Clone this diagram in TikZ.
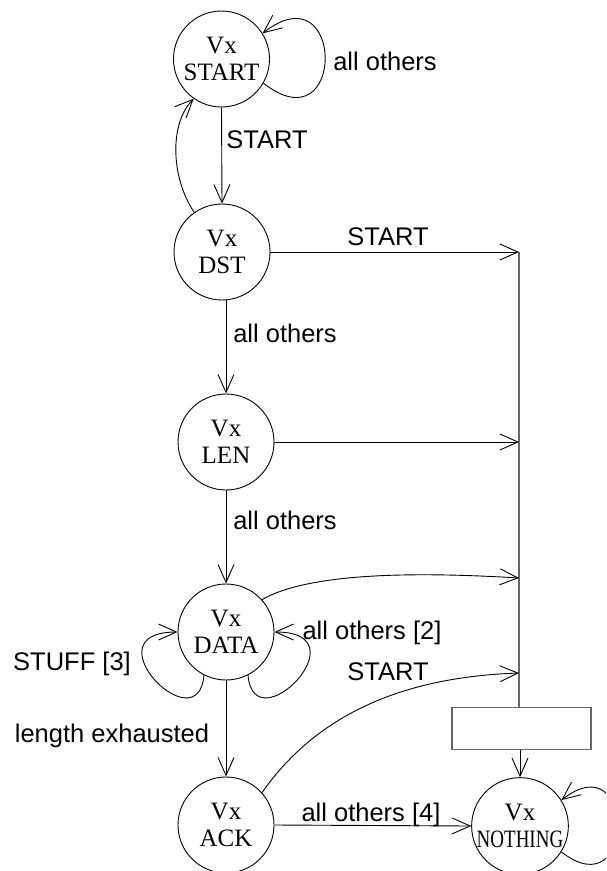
\documentclass[tikz,border=0pt]{standalone}
\usepackage{fontspec}
\usepackage{graphicx}
\setmainfont{Liberation Serif}
\newfontfamily\labfont{Liberation Sans}
\usetikzlibrary{arrows.meta}
\begin{document}
\begin{tikzpicture}[x=1pt,y=1pt,line width=0.9pt,
  state/.style={circle,draw,minimum size=96pt,inner sep=0pt,align=center,
    font=\fontsize{25}{27}\selectfont},
  lbl/.style={font=\labfont\fontsize{25.5}{28}\selectfont,inner sep=0pt},
  arr/.style={-{Straight Barb[length=18pt,width=16pt,line width=0.9pt]}},
  busline/.style={draw=black!60,line width=1.2pt},
  ]
\clip (0,0) rectangle (606,-871);

% states
\node[state] (s)  at (221.5,-59) {Vx\\START};
\node[state] (d)  at (222,-252)  {Vx\\DST};
\node[state] (l)  at (226,-442)  {Vx\\LEN};
\node[state] (da) at (226,-632)  {Vx\\DATA};
\node[state] (a)  at (226,-825)  {Vx\\ACK};
\node[state] (n)  at (520,-826)  {Vx\\\scalebox{0.76}[1]{NOTHING}};

% bus line and box
\coordinate (vt) at (519,-252);
\node[draw=black!60,line width=1.2pt,minimum width=139pt,minimum height=42pt,inner sep=0pt] (box) at (521.5,-728.5) {};
\draw[busline] (vt) -- (vt |- box.north);
\coordinate (p2) at (519,-442);
\coordinate (p3) at (519,-578);
\coordinate (p4) at (519,-673);

% transitions
\draw[arr] (s.-30) .. controls +(-38:105) and +(38:105) .. (s.32);
\draw[arr] (s.south) -- (d.north);
\draw[arr] (d.125) .. controls (172,-180) and (168,-125) .. (s.235);
\draw[arr] (d.east) -- (vt);
\draw[arr] (l.north |- d.south) -- (l.north);
\draw[arr] (l.east) -- (p2);
\draw[arr] (l.south) -- (da.north);
\draw[arr] (da.42) .. controls (310,-572) and (420,-572) .. (p3);
\draw[arr] (da.243) .. controls +(265:70) and +(180:90) .. (da.180);
\draw[arr] (da.297) .. controls +(275:70) and +(0:90) .. (da.0);
\draw[arr] (da.south) -- (a.north);
\draw[arr] (a.42) .. controls +(55:100) and +(182:110) .. (p4);
\draw[arr] (a.east) -- (n.west);
\draw[arr] (n.north |- box.south) -- (n.north);
\draw[arr] (n.-32) .. controls +(-38:95) and +(38:95) .. (n.32);

% labels
\node[lbl] (t1) at (385,-61)  {all others};
\node[lbl] (t2) at (267,-140) {START};
\node[lbl] (t3) at (388,-237) {START};
\node[lbl] (t4) at (285,-333) {all others};
\node[lbl] (t5) at (285,-520) {all others};
\node[lbl] (t6) at (372,-633) {all others [2]};
\node[lbl] (t7) at (72,-664)  {STUFF [3]};
\node[lbl] (t8) at (388,-672) {START};
\node[lbl] (t9) at (112,-736) {length exhausted};
\node[lbl] (t10) at (371,-815) {all others [4]};
\end{tikzpicture}
\end{document}
